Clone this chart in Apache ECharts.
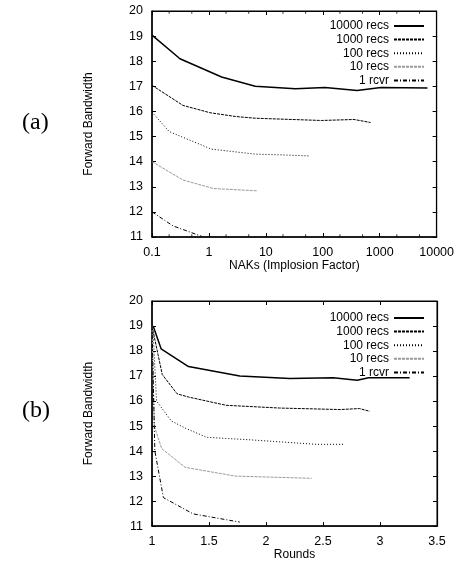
<!DOCTYPE html>
<html><head><meta charset="utf-8">
<script src="https://cdn.jsdelivr.net/npm/echarts@6/dist/echarts.min.js"></script>
<style>html,body{margin:0;padding:0;background:#fff}#c{width:457px;height:562px}</style>
</head><body><div id="c"></div>
<script>
const seriesNames = ['10000 recs', '1000 recs', '100 recs', '10 recs', '1 rcvr'];

// (a) Forward bandwidth vs NAKs (implosion factor), log x
const a10000 = [[0.1,19.04],[0.31,18.1],[1.67,17.37],[6.5,17.0],[33,16.9],[110,16.95],[400,16.83],[1050,16.95],[6900,16.93]];
const a1000  = [[0.1,17.04],[0.35,16.24],[1.04,15.95],[2.9,15.8],[6.5,15.73],[95,15.64],[355,15.68],[690,15.56]];
const a100   = [[0.1,15.97],[0.2,15.2],[0.35,14.97],[1.1,14.5],[6.5,14.3],[19,14.27],[56,14.23]];
const a10    = [[0.1,14.0],[0.35,13.27],[1.2,12.93],[6.9,12.84]];
const a1     = [[0.1,12.0],[0.235,11.44],[0.74,11.03]];

// (b) Forward bandwidth vs rounds
const b10000 = [[1.01,19.0],[1.08,18.09],[1.32,17.38],[1.77,17.0],[2.21,16.9],[2.59,16.93],[2.8,16.83],[2.9,16.93],[3.26,16.93]];
const b1000  = [[1.0,19.0],[1.09,17.06],[1.22,16.29],[1.32,16.16],[1.65,15.83],[2.12,15.72],[2.65,15.66],[2.82,15.7],[2.91,15.59]];
const b100   = [[1.01,18.7],[1.04,16.0],[1.17,15.2],[1.3,14.9],[1.48,14.55],[1.86,14.45],[2.44,14.27],[2.68,14.27]];
const b10    = [[1.0,19.0],[1.02,15.0],[1.085,14.1],[1.29,13.35],[1.73,13.0],[2.4,12.91]];
const b1     = [[1.0,19.0],[1.025,14.0],[1.1,12.14],[1.36,11.49],[1.77,11.16]];

const yTicksMin = 11, yTicksMax = 20;
const naksMinorTicks = [0.2,0.5,2,5,20,50,200,500,2000,5000];

const styles = [
  {color:'#000', width:1.5, type:'solid'},
  {color:'#000', width:1, type:[3,1]},
  {color:'#000', width:1, type:[1,2]},
  {color:'#9a9a9a', width:1, type:[3,1]},
  {color:'#000', width:1, type:[4,2,1,2]}
];

const FONT = 'Liberation Sans, Arial, Helvetica, sans-serif';
const txt = {color:'#000', fontFamily: FONT, fontSize: 12.5};

function lineSeries(name, data, idx, gi) {
  const s = styles[idx];
  return {
    type:'line', name, data, xAxisIndex: gi*2, yAxisIndex: gi*2,
    showSymbol:false, symbol:'none', animation:false, clip:true,
    lineStyle:{color:s.color, width:s.width, type:s.type},
    itemStyle:{color:s.color}
  };
}

const grids = [
  {left:152, top:11, width:285, height:226, show:true, borderColor:'#000', borderWidth:1},
  {left:152, top:301, width:285, height:228, show:true, borderColor:'#000', borderWidth:1}
];

function yAxes(gi) {
  return [
    {type:'value', gridIndex:gi, min:yTicksMin, max:yTicksMax, interval:1, position:'left',
     name:'Forward Bandwidth', nameLocation:'middle', nameGap:57, nameTextStyle:Object.assign({}, txt, {fontSize:12}),
     axisLine:{show:true, lineStyle:{color:'#000', width:1.5}},
     axisTick:{inside:true, length:4, lineStyle:{color:'#000'}},
     axisLabel:Object.assign({margin:9}, txt), splitLine:{show:false}},
    {type:'value', gridIndex:gi, min:yTicksMin, max:yTicksMax, interval:1, position:'right',
     axisLine:{show:true, lineStyle:{color:'#000', width:1.2}},
     axisTick:{inside:true, length:4, lineStyle:{color:'#000'}},
     axisLabel:{show:false}, splitLine:{show:false}}
  ];
}

const xAxes = [
  {type:'log', gridIndex:0, min:0.1, max:10000, logBase:10, position:'bottom',
   name:'NAKs (Implosion Factor)', nameLocation:'middle', nameGap:22, nameTextStyle:Object.assign({}, txt, {fontSize:12}),
   axisLine:{show:true, lineStyle:{color:'#000', width:1.5}},
   axisTick:{inside:true, length:4, lineStyle:{color:'#000'}},
   axisLabel:Object.assign({margin:9, formatter:v=>String(Number(v.toPrecision(6)))}, txt),
   splitLine:{show:false}},
  {type:'log', gridIndex:0, min:0.1, max:10000, logBase:10, position:'top',
   axisLine:{show:true, lineStyle:{color:'#000', width:1}},
   axisTick:{inside:true, length:4, lineStyle:{color:'#000'}},
   axisLabel:{show:false}, splitLine:{show:false}},
  {type:'value', gridIndex:1, min:1, max:3.5, interval:0.5, position:'bottom',
   name:'Rounds', nameLocation:'middle', nameGap:22, nameTextStyle:Object.assign({}, txt, {fontSize:12}),
   axisLine:{show:true, lineStyle:{color:'#000', width:1.5}},
   axisTick:{inside:true, length:4, lineStyle:{color:'#000'}},
   axisLabel:Object.assign({margin:9}, txt), splitLine:{show:false}},
  {type:'value', gridIndex:1, min:1, max:3.5, interval:0.5, position:'top',
   axisLine:{show:true, lineStyle:{color:'#000', width:1}},
   axisTick:{inside:true, length:4, lineStyle:{color:'#000'}},
   axisLabel:{show:false}, splitLine:{show:false}}
];

const aData = [a10000, a1000, a100, a10, a1];
const bData = [b10000, b1000, b100, b10, b1];
const series = [];
aData.forEach((d,i)=>series.push(lineSeries(seriesNames[i], d, i, 0)));
bData.forEach((d,i)=>series.push(lineSeries(seriesNames[i], d, i, 1)));

// minor log ticks (bottom and top edges of panel a)
series.push({type:'scatter', xAxisIndex:0, yAxisIndex:0, silent:true, clip:false, animation:false,
  data: naksMinorTicks.map(v=>[v, yTicksMin]), symbol:'rect', symbolSize:[1,2.5], symbolOffset:[0,-1.5],
  itemStyle:{color:'#000'}});
series.push({type:'scatter', xAxisIndex:0, yAxisIndex:0, silent:true, clip:false, animation:false,
  data: naksMinorTicks.map(v=>[v, yTicksMax]), symbol:'rect', symbolSize:[1,2.5], symbolOffset:[0,1.5],
  itemStyle:{color:'#000'}});

const legendCommon = {
  orient:'vertical', align:'right', right:32, padding:0, itemWidth:30, itemHeight:12, itemGap:1.6,
  data: seriesNames, textStyle: Object.assign({}, txt, {fontSize:12}), selectedMode:false,
  itemStyle:{opacity:0}
};

const option = {
  backgroundColor:'#fff',
  animation:false,
  grid: grids,
  xAxis: xAxes,
  yAxis: yAxes(0).concat(yAxes(1)),
  legend: [Object.assign({top:20}, legendCommon), Object.assign({top:312}, legendCommon)],
  series,
  graphic: [
    {type:'text', left:22, top:111, style:{text:'(a)', font:'24px "Liberation Serif", "Times New Roman", serif', fill:'#000'}},
    {type:'text', left:22, top:399, style:{text:'(b)', font:'24px "Liberation Serif", "Times New Roman", serif', fill:'#000'}}
  ]
};

const chart = echarts.init(document.getElementById('c'), null, {renderer:'canvas'});
chart.setOption(option);
</script></body></html>
